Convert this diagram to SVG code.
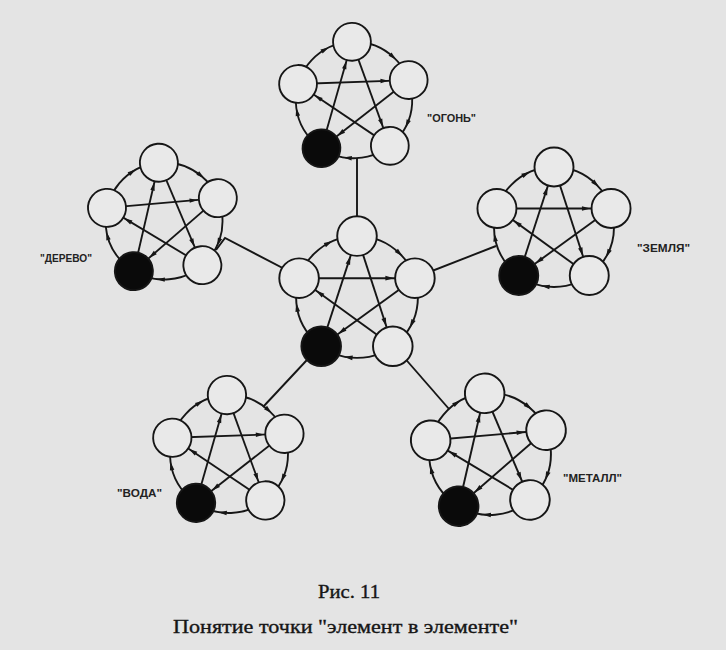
<svg xmlns="http://www.w3.org/2000/svg" xmlns:xlink="http://www.w3.org/1999/xlink" width="726" height="650" viewBox="0 0 726 650">
  <style>
    .ln { fill: none; stroke: #161616; stroke-width: 1.9; }
    .arr { fill: #161616; }
    .nd { fill: #e9e9e9; stroke: #161616; stroke-width: 1.9; }
    .blk { fill: #0a0a0a; }
    .lbl { font-family: "Liberation Sans", Arial, sans-serif; font-size: 10px; font-weight: bold; fill: #222; }
    .cap { font-family: "Liberation Serif", "Times New Roman", serif; font-size: 19px; fill: #161616; stroke: #161616; stroke-width: 0.35; }
  </style>
  <defs>
    <path id="ah" class="arr" d="M4.5,0 L-4,-2.3 L-4,2.3 Z"/>
    <g id="sl">
      <line class="ln" x1="0" y1="-60" x2="35.27" y2="48.54"/>
      <use href="#ah" transform="translate(27.51,24.66) rotate(72)"/>
    </g>
    <g id="links">
      <circle class="ln" cx="0" cy="0" r="60"/>
      <use href="#ah" transform="rotate(44) translate(0,-60)"/>
      <use href="#ah" transform="rotate(116) translate(0,-60)"/>
      <use href="#ah" transform="rotate(188) translate(0,-60)"/>
      <use href="#ah" transform="rotate(260) translate(0,-60)"/>
      <use href="#ah" transform="rotate(332) translate(0,-60)"/>
      <use href="#sl"/>
      <use href="#sl" transform="rotate(72)"/>
      <use href="#sl" transform="rotate(144)"/>
      <use href="#sl" transform="rotate(216)"/>
      <use href="#sl" transform="rotate(288)"/>
    </g>
  </defs>

  <rect x="0" y="0" width="726" height="650" fill="#e4e4e4"/>

  <g id="connectors">
    <path class="ln" d="M357,236 L357,158"/>
    <path class="ln" d="M300,277 L225,238 L216,250"/>
    <path class="ln" d="M414,278 L496,246"/>
    <path class="ln" d="M320,346 L263,407"/>
    <path class="ln" d="M395,347 L449,409"/>
  </g>

  <g id="center" transform="translate(357,297) scale(1.015)">
    <use href="#links"/>
    <circle id="center-1" class="nd" cx="0" cy="-60" r="19.5"/>
    <circle id="center-2" class="nd" cx="57.06" cy="-18.54" r="19.5"/>
    <circle id="center-3" class="nd" cx="35.27" cy="48.54" r="19.5"/>
    <circle id="center-4" class="nd blk" cx="-35.27" cy="48.54" r="19.5"/>
    <circle id="center-5" class="nd" cx="-57.06" cy="-18.54" r="19.5"/>
  </g>

  <g id="ogon" transform="translate(354,100) rotate(-2) scale(0.97)">
    <use href="#links"/>
    <circle id="ogon-1" class="nd" cx="0" cy="-60" r="19.5"/>
    <circle id="ogon-2" class="nd" cx="57.06" cy="-18.54" r="19.5"/>
    <circle id="ogon-3" class="nd" cx="35.27" cy="48.54" r="19.5"/>
    <circle id="ogon-4" class="nd blk" cx="-35.27" cy="48.54" r="19.5"/>
    <circle id="ogon-5" class="nd" cx="-57.06" cy="-18.54" r="19.5"/>
  </g>

  <g id="derevo" transform="translate(164,221) rotate(-5) scale(0.975)">
    <use href="#links"/>
    <circle id="derevo-1" class="nd" cx="0" cy="-60" r="19.5"/>
    <circle id="derevo-2" class="nd" cx="57.06" cy="-18.54" r="19.5"/>
    <circle id="derevo-3" class="nd" cx="35.27" cy="48.54" r="19.5"/>
    <circle id="derevo-4" class="nd blk" cx="-35.27" cy="48.54" r="19.5"/>
    <circle id="derevo-5" class="nd" cx="-57.06" cy="-18.54" r="19.5"/>
  </g>

  <g id="zemlya" transform="translate(554,227)">
    <use href="#links"/>
    <circle id="zemlya-1" class="nd" cx="0" cy="-60" r="19.5"/>
    <circle id="zemlya-2" class="nd" cx="57.06" cy="-18.54" r="19.5"/>
    <circle id="zemlya-3" class="nd" cx="35.27" cy="48.54" r="19.5"/>
    <circle id="zemlya-4" class="nd blk" cx="-35.27" cy="48.54" r="19.5"/>
    <circle id="zemlya-5" class="nd" cx="-57.06" cy="-18.54" r="19.5"/>
  </g>

  <g id="voda" transform="translate(229,454) rotate(-2) scale(0.983)">
    <use href="#links"/>
    <circle id="voda-1" class="nd" cx="0" cy="-60" r="19.5"/>
    <circle id="voda-2" class="nd" cx="57.06" cy="-18.54" r="19.5"/>
    <circle id="voda-3" class="nd" cx="35.27" cy="48.54" r="19.5"/>
    <circle id="voda-4" class="nd blk" cx="-35.27" cy="48.54" r="19.5"/>
    <circle id="voda-5" class="nd" cx="-57.06" cy="-18.54" r="19.5"/>
  </g>

  <g id="metall" transform="translate(490,454) rotate(-5) scale(1.015)">
    <use href="#links"/>
    <circle id="metall-1" class="nd" cx="0" cy="-60" r="19.5"/>
    <circle id="metall-2" class="nd" cx="57.06" cy="-18.54" r="19.5"/>
    <circle id="metall-3" class="nd" cx="35.27" cy="48.54" r="19.5"/>
    <circle id="metall-4" class="nd blk" cx="-35.27" cy="48.54" r="19.5"/>
    <circle id="metall-5" class="nd" cx="-57.06" cy="-18.54" r="19.5"/>
  </g>

  <g id="labels">
    <text class="lbl" x="427" y="121.5" textLength="49" lengthAdjust="spacingAndGlyphs">"ОГОНЬ"</text>
    <text class="lbl" x="637" y="251.5" textLength="53" lengthAdjust="spacingAndGlyphs">"ЗЕМЛЯ"</text>
    <text class="lbl" x="40" y="261.5" textLength="52" lengthAdjust="spacingAndGlyphs">"ДЕРЕВО"</text>
    <text class="lbl" x="117" y="497" textLength="45" lengthAdjust="spacingAndGlyphs">"ВОДА"</text>
    <text class="lbl" x="563" y="482" textLength="59" lengthAdjust="spacingAndGlyphs">"МЕТАЛЛ"</text>
  </g>

  <g id="caption">
    <text class="cap" x="349" y="598" text-anchor="middle" textLength="62" lengthAdjust="spacingAndGlyphs">Рис. 11</text>
    <text class="cap" x="345.5" y="633" text-anchor="middle" textLength="345" lengthAdjust="spacingAndGlyphs">Понятие точки "элемент в элементе"</text>
  </g>
</svg>
